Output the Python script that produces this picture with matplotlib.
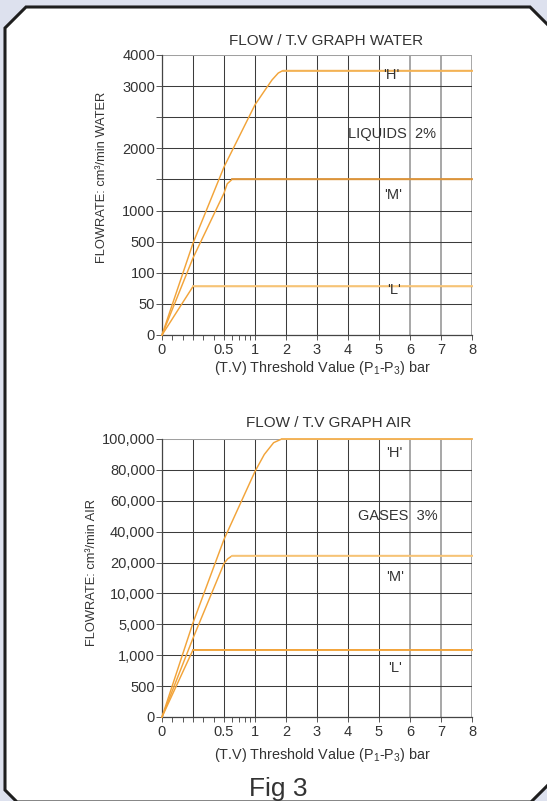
import numpy as np
import matplotlib
matplotlib.use('Agg')
import matplotlib.pyplot as plt
from matplotlib.patches import Polygon, Rectangle
from matplotlib.ticker import FixedLocator, FixedFormatter, NullFormatter

plt.rcParams['font.family'] = ['Liberation Sans', 'DejaVu Sans']
plt.rcParams['mathtext.fontset'] = 'custom'
plt.rcParams['mathtext.rm'] = 'Liberation Sans'
plt.rcParams['mathtext.it'] = 'Liberation Sans'

# ---------------- data ----------------
x_ticks = [0, 0.2, 0.5, 1, 2, 3, 4, 5, 6, 7, 8]
x_tick_labels = ['0', '', '0.5', '1', '2', '3', '4', '5', '6', '7', '8']
x_minor_ticks = [0.067, 0.133, 0.3, 0.4, 0.6, 0.7, 0.8, 0.9]

water_levels = [0, 50, 100, 500, 1000, 1500, 2000, 2500, 3000, 4000]
water_labels = ['0', '50', '100', '500', '1000', '', '2000', '', '3000', '4000']
air_levels = [0, 500, 1000, 5000, 10000, 20000, 40000, 60000, 80000, 100000]
air_labels = ['0', '500', '1,000', '5,000', '10,000', '20,000', '40,000',
              '60,000', '80,000', '100,000']

water_H_x = [0, 0.2, 0.5, 1.0, 1.3, 1.55, 1.75, 1.9, 8]
water_H_y = [0, 480, 1700, 2700, 2920, 3200, 3420, 3500, 3500]
water_M_x = [0, 0.2, 0.5, 0.54, 0.6, 8]
water_M_y = [0, 290, 1280, 1430, 1500, 1500]
water_L_x = [0, 0.2, 8]
water_L_y = [0, 78, 78]

air_H_x = [0, 0.2, 0.5, 1.0, 1.3, 1.6, 1.86, 8]
air_H_y = [0, 5250, 35000, 79000, 90000, 97600, 100000, 100000]
air_M_x = [0, 0.2, 0.5, 0.546, 0.604, 8]
air_M_y = [0, 3200, 19700, 22400, 24500, 24500]
air_L_x = [0, 0.2, 8]
air_L_y = [0, 1700, 1700]

# ------------- scale definitions (chart paper grid) -------------
x_scale_vals = [0, 0.2, 0.5, 0.6, 0.7, 0.8, 0.9, 1, 2, 3, 4, 5, 6, 7, 8]
x_scale_pos = [0, 1, 2, 2.26, 2.49, 2.68, 2.85, 3, 4, 5, 6, 7, 8, 9, 10]


def make_funcs(vals, pos):
    vals = np.asarray(vals, float)
    pos = np.asarray(pos, float)

    def fwd(v):
        return np.interp(v, vals, pos)

    def inv(p):
        return np.interp(p, pos, vals)
    return fwd, inv


W, H = 547, 801
fig = plt.figure(figsize=(W / 100, H / 100), dpi=100)


def fx(x):
    return x / W


def fy(y):
    return 1 - y / H


# background + framed panel
fig.patches.append(Rectangle((0, 0), 1, 1, transform=fig.transFigure,
                             facecolor='#dde1ee', edgecolor='none', zorder=-10))
poly_px = [(5, 28), (26, 7), (530, 7), (562, 39), (562, 771), (531, 802),
           (17, 802), (5, 790)]
fig.patches.append(Polygon([(fx(x), fy(y)) for x, y in poly_px], closed=True,
                           transform=fig.transFigure, facecolor='white',
                           edgecolor='#1e1e1e', linewidth=2.2, zorder=-9))

ORANGE = '#f2a43a'
LIGHT = '#f7c880'
TXT = '#333333'
GRID = '#3c3c3c'
GRID_LIGHT = '#a0a0a0'


def setup_axes(rect, levels, labels):
    ax = fig.add_axes(rect)
    ax.patch.set_alpha(0)
    xf, xi = make_funcs(x_scale_vals, x_scale_pos)
    yf, yi = make_funcs(levels, list(range(len(levels))))
    ax.set_xscale('function', functions=(xf, xi))
    ax.set_yscale('function', functions=(yf, yi))
    ax.set_xlim(0, 8)
    ax.set_ylim(levels[0], levels[-1])
    ax.xaxis.set_major_locator(FixedLocator(x_ticks))
    ax.xaxis.set_major_formatter(FixedFormatter(x_tick_labels))
    ax.xaxis.set_minor_locator(FixedLocator(x_minor_ticks))
    ax.xaxis.set_minor_formatter(NullFormatter())
    ax.yaxis.set_major_locator(FixedLocator(levels))
    ax.yaxis.set_major_formatter(FixedFormatter(labels))
    ax.yaxis.set_minor_locator(FixedLocator([]))
    ax.grid(True, which='major', color=GRID, linewidth=0.75, zorder=1)
    xgl = ax.xaxis.get_gridlines()
    for gl in xgl[-3:]:
        gl.set_color(GRID_LIGHT)
        gl.set_linewidth(1.3)
    ygl = ax.yaxis.get_gridlines()
    ygl[-1].set_color(GRID_LIGHT)
    for s in ['top', 'right']:
        ax.spines[s].set_visible(False)
    for s in ['left', 'bottom']:
        ax.spines[s].set_color('#444444')
        ax.spines[s].set_linewidth(0.9)
    ax.tick_params(axis='x', which='both', length=3.5, width=0.7, color='#555555',
                   labelsize=10.5, labelcolor=TXT, pad=2)
    ax.tick_params(axis='y', length=4.5, width=0.7, color='#555555',
                   labelsize=10.5, labelcolor=TXT, pad=0.5)
    return ax


def ax_rect(left, top, right, bottom):
    return [fx(left), fy(bottom), fx(right) - fx(left), fy(top) - fy(bottom)]


LW = 1.05


def draw_series(ax, xs, ys, plateau_color):
    ax.plot(xs, ys, color=ORANGE, lw=LW, zorder=3, clip_on=False)
    ax.plot(xs[-2:], ys[-2:], color=plateau_color, lw=LW + 0.2, zorder=4,
            clip_on=False)


# ---------------- WATER ----------------
axw = setup_axes(ax_rect(162, 55, 472, 335), water_levels, water_labels)
draw_series(axw, water_L_x, water_L_y, LIGHT)
draw_series(axw, water_M_x, water_M_y, '#d9923a')
draw_series(axw, water_H_x, water_H_y, '#f4b55a')

# ---------------- AIR ----------------
axa = setup_axes(ax_rect(162, 439, 472, 717), air_levels, air_labels)
draw_series(axa, air_L_x, air_L_y, ORANGE)
draw_series(axa, air_M_x, air_M_y, LIGHT)
draw_series(axa, air_H_x, air_H_y, '#f4b55a')

# ---------------- texts ----------------
def ftext(x, y, s, size=10, **kw):
    fig.text(fx(x), fy(y), s, fontsize=size, color=TXT, ha='center', va='center', **kw)


ftext(326, 41, 'FLOW / T.V GRAPH WATER', 11)
ftext(329, 423, 'FLOW / T.V GRAPH AIR', 11)
xlab = '(T.V) Threshold Value (P$_\\mathregular{1}$-P$_\\mathregular{3}$) bar'
ftext(323, 368, xlab, 10.4)
ftext(323, 755, xlab, 10.4)
ftext(102, 177, 'FLOWRATE: cm³/min WATER', 9.3, rotation=90)
ftext(92, 572, 'FLOWRATE: cm³/min AIR', 9.3, rotation=90)

ftext(391, 75, "'H'", 10.5)
ftext(392, 134, 'LIQUIDS  2%', 10.5)
ftext(393, 195, "'M'", 10.5)
ftext(394, 290, "'L'", 10.5)

ftext(394, 453, "'H'", 10.5)
ftext(398, 516, 'GASES  3%', 10.5)
ftext(395, 577, "'M'", 10.5)
ftext(395, 668, "'L'", 10.5)

ftext(278, 789, 'Fig 3', 19)

fig.savefig('out.png', dpi=100)
